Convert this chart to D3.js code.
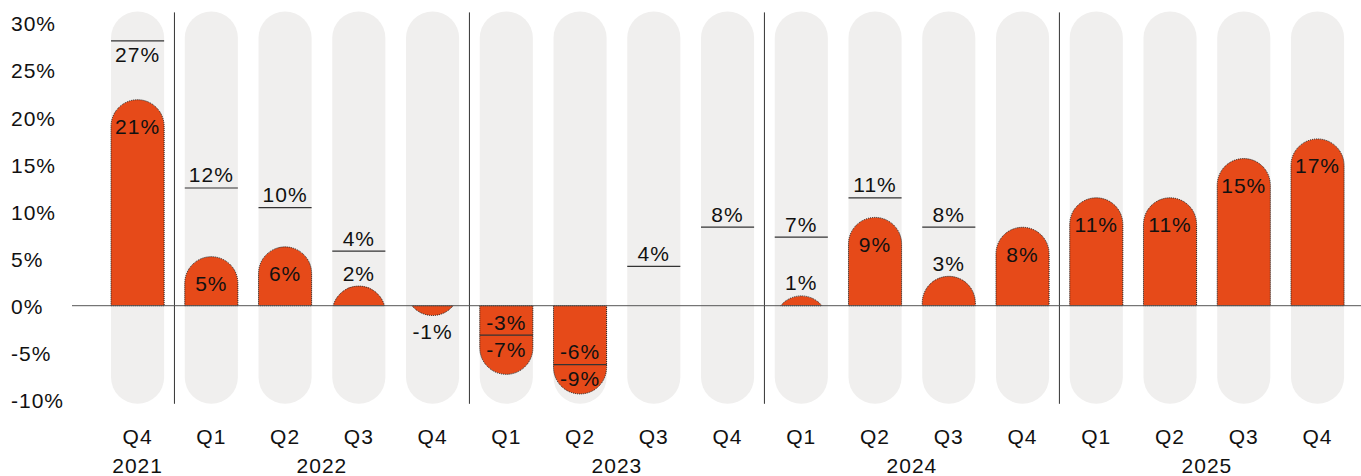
<!DOCTYPE html>
<html>
<head>
<meta charset="utf-8">
<script src="https://cdn.jsdelivr.net/npm/d3@7"></script>
<style>
  html, body { margin: 0; padding: 0; background: #fff; }
  svg text { font-family: "Liberation Sans", Arial, sans-serif; font-size: 21px; fill: #111; letter-spacing: 1px; }
</style>
</head>
<body>
<div id="chart"></div>
<script>
const quarters = ["Q4", "Q1", "Q2", "Q3", "Q4", "Q1", "Q2", "Q3", "Q4", "Q1", "Q2", "Q3", "Q4", "Q1", "Q2", "Q3", "Q4"];
const years = ["2021", "2022", "2022", "2022", "2022", "2023", "2023", "2023", "2023", "2024", "2024", "2024", "2024", "2025", "2025", "2025", "2025"];
const actual = [21, 5, 6, 2, -1, -7, -9, null, null, 1, 9, 3, 8, 11, 11, 15, 17];
const target = [27, 12, 10, 4, null, -3, -6, 4, 8, 7, 11, 8, null, null, null, null, null];
const yTicks = [30, 25, 20, 15, 10, 5, 0, -5, -10];

const width = 1361, height = 476;

const rows = quarters.map((q, i) => ({
    key: years[i] + " " + q,
    quarter: q,
    year: years[i],
    actual: actual[i],
    target: target[i]
}));

const svg = d3.select("#chart")
    .append("svg")
    .attr("width", width)
    .attr("height", height);

const x = d3.scaleBand()
    .domain(rows.map(d => d.key))
    .range([100.7, 1354.4])
    .paddingInner(0.28)
    .paddingOuter(0.14);

const y = d3.scaleLinear()
    .domain([-10, 30])
    .range([403.8, 11.4]);

// tick labels sit on a slightly tighter scale than the marks
const yLabel = d3.scaleLinear()
    .domain([-10, 30])
    .range([399.8, 23.4]);

const bw = x.bandwidth();
const r = bw / 2;
const gap = x.step() - bw;
const fmt = v => `${v}%`;

// grey pills
svg.append("g")
    .selectAll("rect")
    .data(rows)
    .enter()
    .append("rect")
    .attr("x", d => x(d.key))
    .attr("y", y(30))
    .attr("width", bw)
    .attr("height", y(-10) - y(30))
    .attr("rx", r)
    .attr("ry", r)
    .attr("fill", "#f0efee");

// year separators
const yearStarts = rows.filter((d, i) => i > 0 && d.year !== rows[i - 1].year);
svg.append("g")
    .selectAll("line")
    .data(yearStarts)
    .enter()
    .append("line")
    .attr("x1", d => x(d.key) - gap / 2)
    .attr("x2", d => x(d.key) - gap / 2)
    .attr("y1", y(30) + 1)
    .attr("y2", y(-10))
    .attr("stroke", "#333")
    .attr("stroke-width", 1);

// bar with a round cap at the value end, cut at the zero line
function capPath(d) {
    const cx = x(d.key) + r;
    const y0 = y(0);
    const ye = y(d.actual);
    const dir = ye < y0 ? -1 : 1;
    const sweep = dir < 0 ? 1 : 0;
    const h = Math.abs(ye - y0);
    const yc = ye - dir * r;
    if (h >= r) {
        return `M${cx - r},${y0}L${cx - r},${yc}A${r},${r} 0 0 ${sweep} ${cx + r},${yc}L${cx + r},${y0}Z`;
    }
    const c = Math.sqrt(r * r - (r - h) * (r - h));
    return `M${cx - c},${y0}A${r},${r} 0 0 ${sweep} ${cx + c},${y0}Z`;
}

const withBar = rows.filter(d => d.actual !== null);

svg.append("g")
    .selectAll("path")
    .data(withBar)
    .enter()
    .append("path")
    .attr("d", capPath)
    .attr("fill", "#e64a19")
    .attr("stroke", "#1a1a1a")
    .attr("stroke-width", 1)
    .attr("stroke-dasharray", "1,1");

// where the bar value label goes
function barLabelY(d) {
    const v = d.actual;
    if (v >= 0) {
        return v >= 5 ? y(v) + 27 : y(v) - 13;
    }
    if (d.target !== null && d.target < 0 && d.target > v) return y(d.target) + 14;
    return y(v) + 16;
}

// target marker line, pushed up when it would hit the bar label
function markerY(d) {
    let ym = y(d.target);
    if (d.actual !== null && d.actual >= 0 && d.actual < 5) {
        ym = Math.min(ym, barLabelY(d) - 22);
    }
    return ym;
}

const withTarget = rows.filter(d => d.target !== null);

svg.append("g")
    .selectAll("line")
    .data(withTarget)
    .enter()
    .append("line")
    .attr("x1", d => x(d.key))
    .attr("x2", d => x(d.key) + bw)
    .attr("y1", d => markerY(d))
    .attr("y2", d => markerY(d))
    .attr("stroke", "#333")
    .attr("stroke-width", 1.2);

// zero line
svg.append("line")
    .attr("x1", 72)
    .attr("x2", width)
    .attr("y1", y(0))
    .attr("y2", y(0))
    .attr("stroke", "#555")
    .attr("stroke-width", 1);

svg.append("g")
    .selectAll("text")
    .data(withTarget)
    .enter()
    .append("text")
    .attr("x", d => x(d.key) + r)
    .attr("y", d => d.target > 25 ? markerY(d) + 14 : markerY(d) - 13)
    .attr("text-anchor", "middle")
    .attr("dominant-baseline", "central")
    .text(d => fmt(d.target));

svg.append("g")
    .selectAll("text")
    .data(withBar)
    .enter()
    .append("text")
    .attr("x", d => x(d.key) + r)
    .attr("y", barLabelY)
    .attr("text-anchor", "middle")
    .attr("dominant-baseline", "central")
    .text(d => fmt(d.actual));

// y axis labels
const yAxis = svg.append("g")
    .attr("transform", "translate(11,0)")
    .call(d3.axisLeft(yLabel).tickValues(yTicks).tickSize(0).tickPadding(0).tickFormat(fmt));
yAxis.select(".domain").remove();
yAxis.selectAll("text")
    .attr("text-anchor", "start")
    .attr("dy", null)
    .attr("dominant-baseline", "central")
    .style("font-family", null)
    .style("font-size", null);
yAxis.attr("font-family", null).attr("font-size", null);

// quarter labels
svg.append("g")
    .selectAll("text")
    .data(rows)
    .enter()
    .append("text")
    .attr("x", d => x(d.key) + r)
    .attr("y", 436)
    .attr("text-anchor", "middle")
    .attr("dominant-baseline", "central")
    .text(d => d.quarter);

// year labels
const yearGroups = d3.groups(rows, d => d.year);
svg.append("g")
    .selectAll("text")
    .data(yearGroups)
    .enter()
    .append("text")
    .attr("x", g => (x(g[1][0].key) + x(g[1][g[1].length - 1].key)) / 2 + r)
    .attr("y", 465)
    .attr("text-anchor", "middle")
    .attr("dominant-baseline", "central")
    .text(g => g[0]);
</script>
</body>
</html>
